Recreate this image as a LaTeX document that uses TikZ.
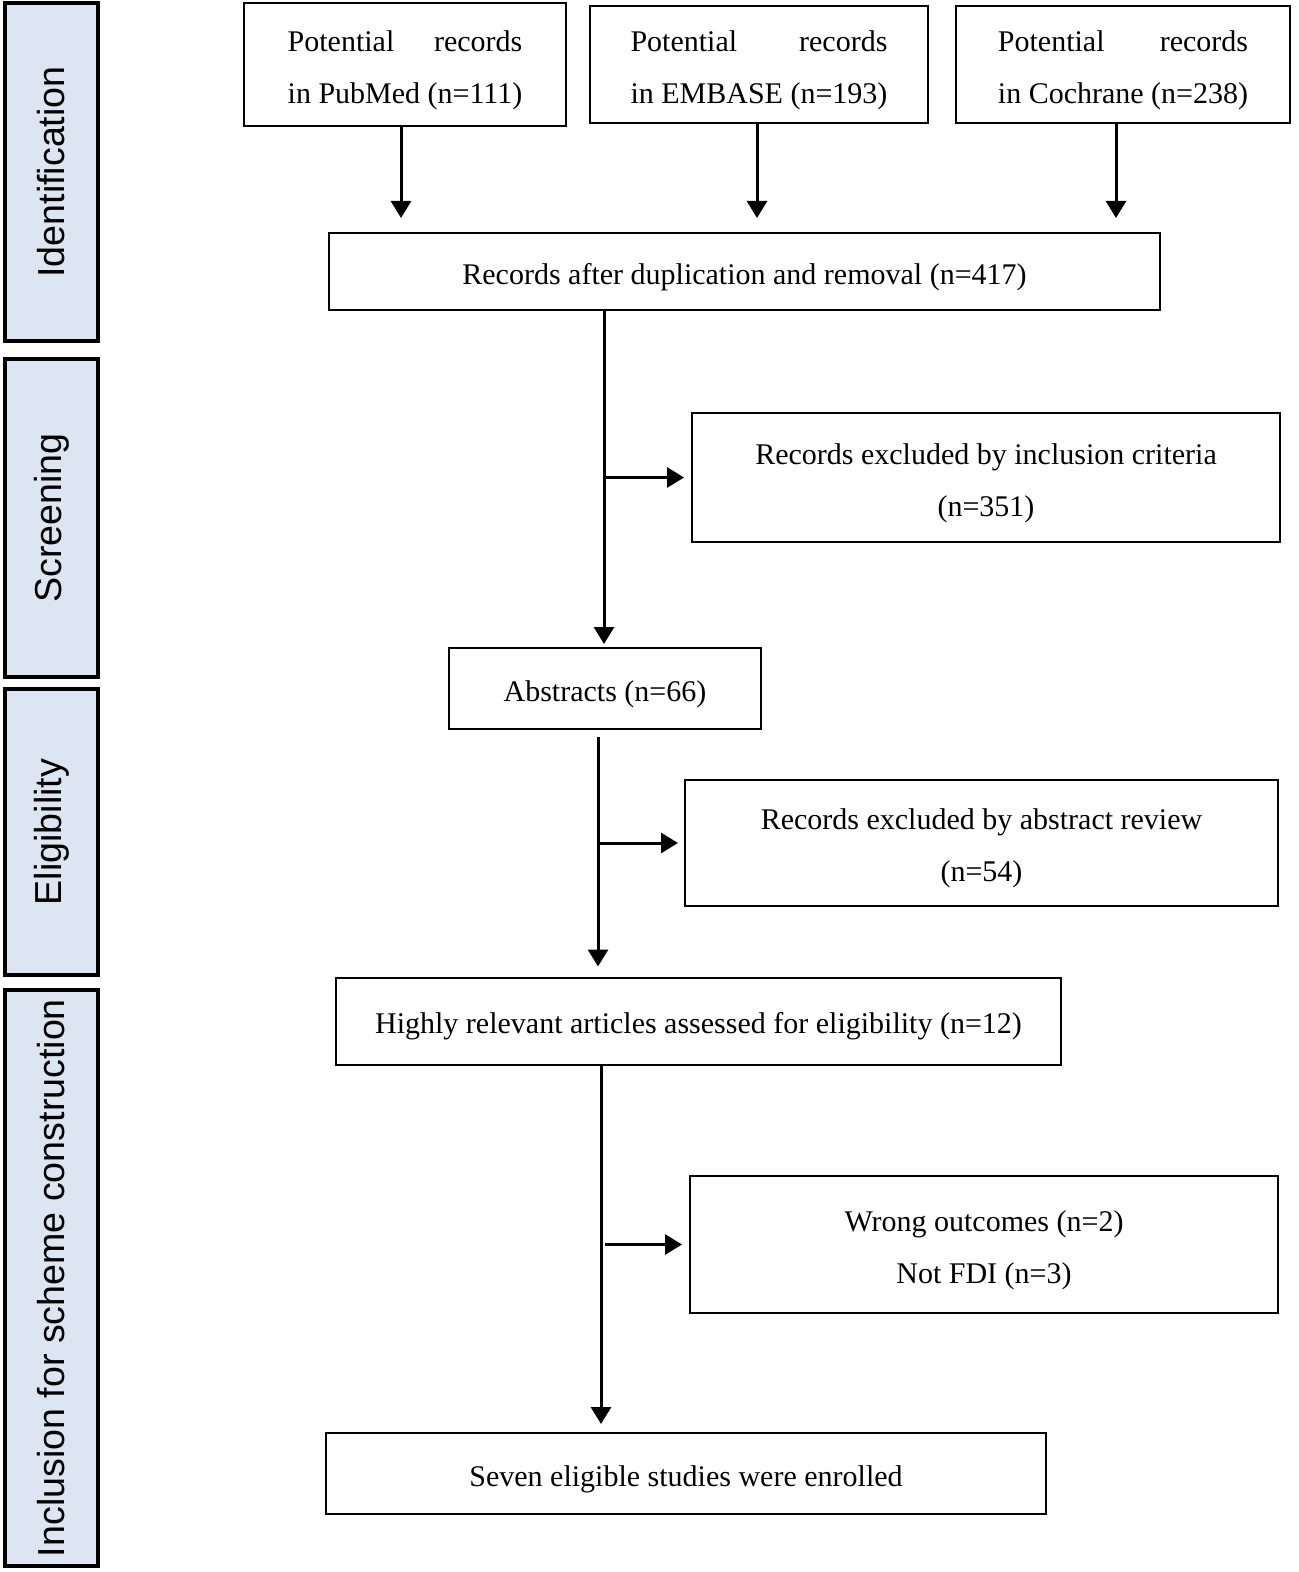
\documentclass[tikz,border=0pt]{standalone}
\usepackage{fontspec}
\setmainfont{Liberation Serif}
\newfontfamily\sidefont{Liberation Sans}
\usetikzlibrary{arrows.meta}
\definecolor{sidefill}{HTML}{DCE6F2}
\newcommand\twoline[3]{\setbox0=\hbox{#3}\hbox to \wd0{#1\hfill#2}\\#3}
\tikzset{
  box/.style={draw=black, line width=1pt, rectangle, inner sep=0pt},
  lbl/.style={align=center, inner sep=0pt, yshift=-2.7pt, font=\fontsize{15}{26}\selectfont},
  side/.style={draw=black, line width=1.6pt, fill=sidefill, rectangle, inner sep=0pt},
  sidetext/.style={rotate=90, font=\sidefont\fontsize{18.8}{22}\selectfont},
  arr/.style={line width=1.5pt, -{Triangle[length=8.5pt,width=10pt]}}
}
\begin{document}
\begin{tikzpicture}[x=0.5pt,y=-0.5pt]
\useasboundingbox (0,0) rectangle (1298,1572);
% side bars
\node[side, minimum width=46.5pt, minimum height=169pt] (s1) at (51.5,172) {};
\node[sidetext] (t1) at (s1.center) {Identification};
\node[side, minimum width=46.5pt, minimum height=159pt] (s2) at (51.5,518) {};
\node[sidetext] (t2) at (s2.center) {Screening};
\node[side, minimum width=46.5pt, minimum height=143pt] (s3) at (51.5,832) {};
\node[sidetext] (t3) at (s3.center) {Eligibility};
\node[side, minimum width=46.5pt, minimum height=288pt] (s4) at (51.5,1278) {};
\node[sidetext] (t4) at (s4.center) {Inclusion for scheme construction};
% boxes
\node[box, minimum width=161pt, minimum height=61.5pt,
  label={[lbl]center:{\twoline{Potential}{records}{in PubMed (n=111)}}}] (pub) at (405,64.5) {};
\node[box, minimum width=169pt, minimum height=58.5pt,
  label={[lbl]center:{\twoline{Potential}{records}{in EMBASE (n=193)}}}] (emb) at (759,64.5) {};
\node[box, minimum width=167pt, minimum height=58.5pt,
  label={[lbl]center:{\twoline{Potential}{records}{in Cochrane (n=238)}}}] (coc) at (1123,64.5) {};
\node[box, minimum width=415.5pt, minimum height=38.5pt,
  label={[lbl]center:{Records after duplication and removal (n=417)}}] (rec) at (744.5,271.5) {};
\node[box, minimum width=294pt, minimum height=64.5pt,
  label={[lbl]center:{Records excluded by inclusion criteria\\(n=351)}}] (exc1) at (986,477.5) {};
\node[box, minimum width=156pt, minimum height=40.5pt,
  label={[lbl]center:{Abstracts (n=66)}}] (abs) at (605,688.5) {};
\node[box, minimum width=296.5pt, minimum height=63pt,
  label={[lbl]center:{Records excluded by abstract review\\(n=54)}}] (exc2) at (981.5,843) {};
\node[box, minimum width=362.5pt, minimum height=43.5pt,
  label={[lbl]center:{Highly relevant articles assessed for eligibility (n=12)}}] (high) at (698.5,1021) {};
\node[box, minimum width=294pt, minimum height=68.5pt,
  label={[lbl]center:{Wrong outcomes (n=2)\\Not FDI (n=3)}}] (exc3) at (984,1244.5) {};
\node[box, minimum width=360pt, minimum height=40.5pt,
  label={[lbl]center:{Seven eligible studies were enrolled}}] (fin) at (686,1473.5) {};
% junction coordinates
\coordinate (j1) at (604,0);
\coordinate (j2) at (598,0);
\coordinate (j3) at (601,0);
% connectors
\draw[arr, shorten >=7pt] (pub.south -| 401,0) -- (rec.north -| 401,0);
\draw[arr, shorten >=7pt] (emb.south -| 757,0) -- (rec.north -| 757,0);
\draw[arr, shorten >=7pt] (coc.south -| 1116,0) -- (rec.north -| 1116,0);
\draw[arr, shorten >=1.5pt] (rec.south -| j1) -- (abs.north -| j1);
\draw[arr, shorten >=3.5pt] (exc1.west -| j1) -- (exc1.west);
\draw[arr, shorten >=5pt, shorten <=3.5pt] (abs.south -| j2) -- (high.north -| j2);
\draw[arr, shorten >=3pt] (exc2.west -| j2) -- (exc2.west);
\draw[arr, shorten >=4pt] (high.south -| j3) -- (fin.north -| j3);
\draw[arr, shorten >=3.5pt, shorten <=2pt] (exc3.west -| j3) -- (exc3.west);
\end{tikzpicture}
\end{document}
